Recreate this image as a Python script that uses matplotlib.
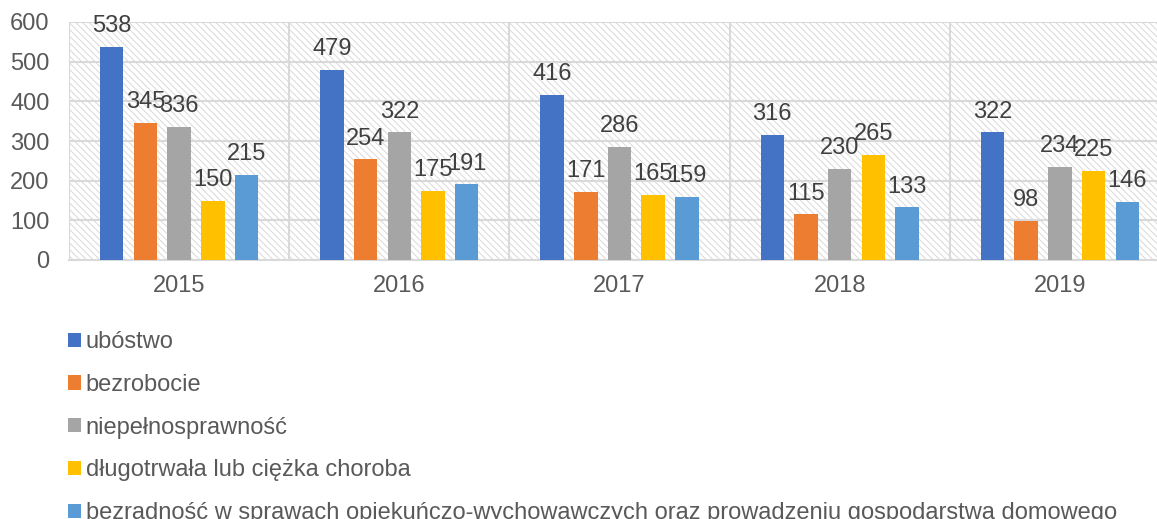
import matplotlib
matplotlib.use("Agg")
import matplotlib.pyplot as plt
from matplotlib.patches import Rectangle, Patch
import numpy as np

years = ["2015", "2016", "2017", "2018", "2019"]
series_names = [
    "ubóstwo",
    "bezrobocie",
    "niepełnosprawność",
    "długotrwała lub ciężka choroba",
    "bezradność w sprawach opiekuńczo-wychowawczych oraz prowadzeniu gospodarstwa domowego",
]
ubostwo = [538, 479, 416, 316, 322]
bezrobocie = [345, 254, 171, 115, 98]
niepelnosprawnosc = [336, 322, 286, 230, 234]
choroba = [150, 175, 165, 265, 225]
bezradnosc = [215, 191, 159, 133, 146]
colors = ["#4472C4", "#ED7D31", "#A5A5A5", "#FFC000", "#5B9BD5"]
yticks = [0, 100, 200, 300, 400, 500, 600]

plt.rcParams["font.family"] = ["Liberation Sans", "DejaVu Sans"]
plt.rcParams["hatch.linewidth"] = 0.7

FS = 17

fig = plt.figure(figsize=(11.57, 5.19), dpi=100)
ax = fig.add_axes([69 / 1157, 1 - 260 / 519, 1101 / 1157, 238 / 519])

# hatched plot area background
ax.add_patch(Rectangle((0, 0), 1, 1, transform=ax.transAxes, facecolor="white",
                       edgecolor="#d9d9d9", hatch="\\\\\\\\\\", linewidth=0, zorder=0))

data = [ubostwo, bezrobocie, niepelnosprawnosc, choroba, bezradnosc]
x = np.arange(len(years))
step = 0.153
width = 0.107
for i, (vals, c) in enumerate(zip(data, colors)):
    pos = x + (i - 2) * step
    ax.bar(pos, vals, width=width, color=c, zorder=3)
    for px, v in zip(pos, vals):
        ax.annotate(str(v), (px, v), xytext=(0, 7), textcoords="offset points",
                    ha="center", va="bottom", fontsize=FS, color="#404040",
                    zorder=4, annotation_clip=False)

ax.set_xlim(-0.5, len(years) - 0.5)
ax.set_ylim(0, 600)
ax.set_yticks(yticks)
ax.set_xticks(x)
ax.set_xticklabels(years)
ax.tick_params(axis="both", length=0, labelsize=FS, colors="#595959")
ax.tick_params(axis="x", pad=11)
ax.tick_params(axis="y", pad=14)

# grid: horizontal at ticks, vertical at category boundaries
for y in yticks[1:]:
    ax.axhline(y, color="#d9d9d9", linewidth=1.5, zorder=1)
for b in np.arange(-0.5, len(years), 1.0):
    ax.axvline(b, color="#d9d9d9", linewidth=1.5, zorder=1)
for s in ["top", "right", "left"]:
    ax.spines[s].set_visible(False)
ax.spines["bottom"].set_color("#d9d9d9")
ax.spines["bottom"].set_linewidth(1.5)
ax.spines["bottom"].set_zorder(2)

handles = [Patch(facecolor=c, edgecolor="none") for c in colors]
leg = fig.legend(handles, series_names, loc="upper left",
                 bbox_to_anchor=(68 / 1157, 1 - 331 / 519), frameon=False,
                 fontsize=FS, labelcolor="#595959", handlelength=0.55,
                 handleheight=0.55, handletextpad=0.2, labelspacing=0.88,
                 borderaxespad=0, borderpad=0)

fig.savefig("out.png", dpi=100)
